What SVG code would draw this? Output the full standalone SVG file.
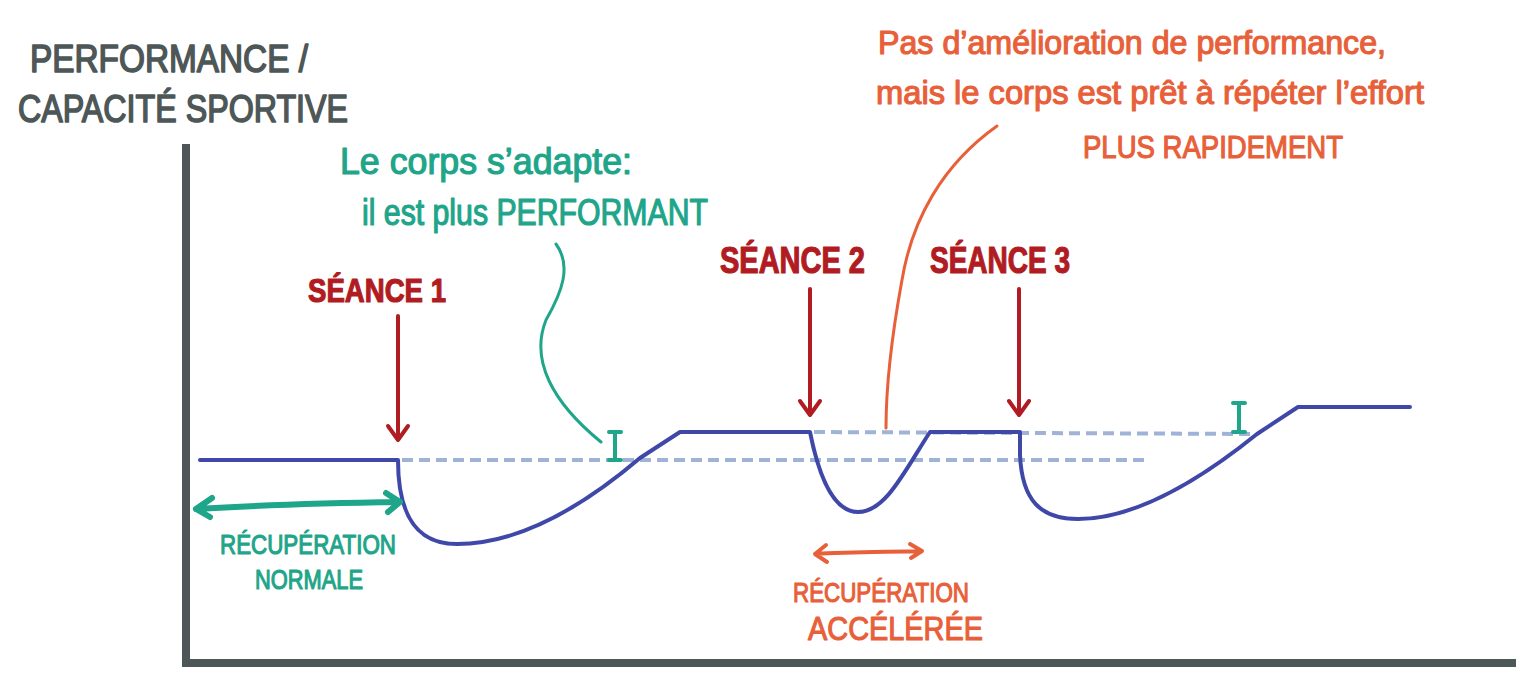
<svg xmlns="http://www.w3.org/2000/svg" width="1529" height="700" viewBox="0 0 1529 700">
<style>
.t{font-family:"Liberation Sans",Arial,sans-serif;stroke-width:1.2;stroke-linejoin:round}
.ax{fill:none;stroke:#4e5757;stroke-width:8;stroke-linecap:square}
.curve{fill:none;stroke:#3f48a8;stroke-width:4;stroke-linejoin:round;stroke-linecap:round}
.dash{fill:none;stroke:#9fb3d6;stroke-width:4;stroke-dasharray:11 6}
.red{fill:none;stroke:#b01c22;stroke-width:4;stroke-linecap:round;stroke-linejoin:round}
.grn{fill:none;stroke:#1fa58a;stroke-linecap:round;stroke-linejoin:round}
.org{fill:none;stroke:#e8603a;stroke-linecap:round;stroke-linejoin:round}
.tg{fill:#1fa58a;stroke:#1fa58a}
.tr{fill:#b01c22;stroke:#b01c22;font-weight:bold}
.to{fill:#e8603a;stroke:#e8603a}
.tk{fill:#4e5757;stroke:#4e5757;stroke-width:1.6}
</style>
<g id="axes">
<path class="ax" d="M186,148 V663 H1512"/>
</g>
<g id="title">
<text class="t tk" x="30" y="72" font-size="38" textLength="278" lengthAdjust="spacingAndGlyphs">PERFORMANCE /</text>
<text class="t tk" x="18" y="122" font-size="38" textLength="330" lengthAdjust="spacingAndGlyphs">CAPACITÉ SPORTIVE</text>
</g>
<g id="connectors">
<path class="dash" d="M402,460 H1145"/>
<path class="dash" d="M814,432 L1256,434"/>
<path class="curve" d="M200,460 H398 C398,505 410,544 457,544 C530,544 600,492 640,458 L680,432 H810 C818,472 832,512 858,512 C886,512 905,470 930,432 H1020 V455 C1022,500 1040,519 1078,519 C1135,519 1200,480 1257,434 L1298,407 H1410"/>
<path class="red" d="M398,316 V440 M388,426 L398,440 L408,426"/>
<path class="red" d="M810,289 V415 M800,401 L810,415 L820,401"/>
<path class="red" d="M1019,289 V415 M1009,401 L1019,415 L1029,401"/>
<path class="grn" stroke-width="3" d="M556,244 C572,266 562,292 546,320 C530,360 552,402 601,442"/>
<path class="grn" stroke-width="4" d="M615,432 V460 M609,432 H621 M609,460 H621"/>
<path class="grn" stroke-width="4" d="M1239,403 V432 M1233,403 H1245 M1233,432 H1245"/>
<path class="grn" stroke-width="6" d="M196,509 C260,505 330,503 400,502 M212,498 L196,509 L210,517 M386,493 L400,502 L388,512"/>
<path class="org" stroke-width="3" d="M997,126 C942,165 912,220 902,280 C891,340 886,390 886,428"/>
<path class="org" stroke-width="4" d="M815,554 C850,552 890,552 922,551 M826,545 L815,554 L827,562 M910,544 L922,551 L911,558"/>
</g>
<g id="label-adapte">
<text class="t tg" x="340" y="174" font-size="36" textLength="292" lengthAdjust="spacingAndGlyphs">Le corps s’adapte:</text>
<text class="t tg" x="362" y="225" font-size="36" textLength="346" lengthAdjust="spacingAndGlyphs">il est plus PERFORMANT</text>
</g>
<g id="label-pas">
<text class="t to" x="878" y="54" font-size="34" textLength="508" lengthAdjust="spacingAndGlyphs">Pas d’amélioration de performance,</text>
<text class="t to" x="876" y="104" font-size="34" textLength="548" lengthAdjust="spacingAndGlyphs">mais le corps est prêt à répéter l’effort</text>
<text class="t to" x="1083" y="158" font-size="32" textLength="260" lengthAdjust="spacingAndGlyphs">PLUS RAPIDEMENT</text>
</g>
<g id="seance1"><text class="t tr" x="308" y="302" font-size="34" textLength="138" lengthAdjust="spacingAndGlyphs">SÉANCE 1</text></g>
<g id="seance2"><text class="t tr" x="720" y="273" font-size="36" textLength="145" lengthAdjust="spacingAndGlyphs">SÉANCE 2</text></g>
<g id="seance3"><text class="t tr" x="930" y="273" font-size="36" textLength="140" lengthAdjust="spacingAndGlyphs">SÉANCE 3</text></g>
<g id="label-normale">
<text class="t tg" x="220" y="554" font-size="28" textLength="176" lengthAdjust="spacingAndGlyphs">RÉCUPÉRATION</text>
<text class="t tg" x="255" y="589" font-size="28" textLength="108" lengthAdjust="spacingAndGlyphs">NORMALE</text>
</g>
<g id="label-acceleree">
<text class="t to" x="793" y="602" font-size="28" textLength="176" lengthAdjust="spacingAndGlyphs">RÉCUPÉRATION</text>
<text class="t to" x="808" y="640" font-size="34" textLength="175" lengthAdjust="spacingAndGlyphs">ACCÉLÉRÉE</text>
</g>
</svg>
